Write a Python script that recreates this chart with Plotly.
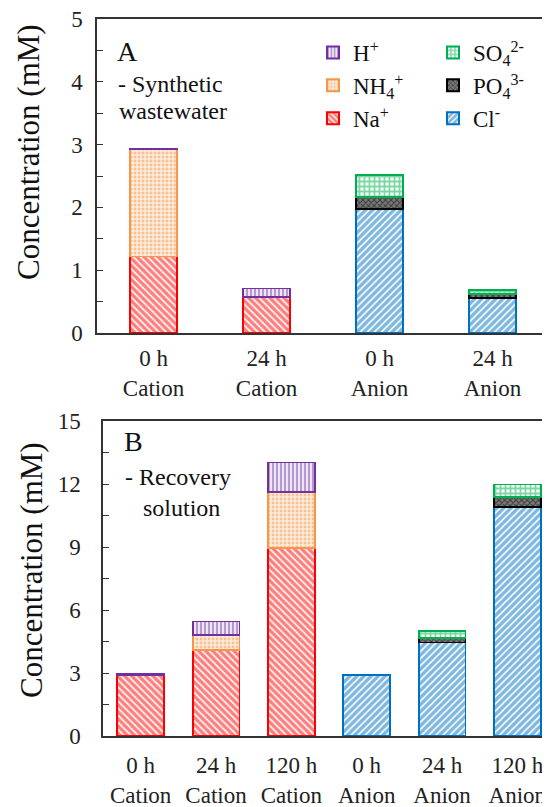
import plotly.graph_objects as go
from plotly.subplots import make_subplots

# ---------------- data ----------------
cats_a = ["0 h<br>Cation", "24 h<br>Cation", "0 h<br>Anion", "24 h<br>Anion"]
cats_b = ["0 h<br>Cation", "24 h<br>Cation", "120 h<br>Cation",
          "0 h<br>Anion", "24 h<br>Anion", "120 h<br>Anion"]

# Panel A - synthetic wastewater (mM)
na_a = [1.22, 0.57, None, None]
nh4_a = [1.70, None, None, None]
h_a = [0.02, 0.14, None, None]
cl_a = [None, None, 1.97, 0.56]
po4_a = [None, None, 0.20, 0.06]
so4_a = [None, None, 0.35, 0.07]

# Panel B - recovery solution (mM)
na_b = [2.90, 4.08, 8.95, None, None, None]
nh4_b = [None, 0.74, 2.68, None, None, None]
h_b = [0.07, 0.63, 1.40, None, None, None]
cl_b = [None, None, None, 2.90, 4.45, 10.90]
po4_b = [None, None, None, None, 0.21, 0.49]
so4_b = [None, None, None, None, 0.33, 0.58]

ion_names = {
    "Cl": "Cl<sup>-</sup>",
    "Na": "Na<sup>+</sup>",
    "PO4": "PO<sub>4</sub><sup>3-</sup>",
    "NH4": "NH<sub>4</sub><sup>+</sup>",
    "SO4": "SO<sub>4</sub><sup>2-</sup>",
    "H": "H<sup>+</sup>",
}
values_a = {"Cl": cl_a, "Na": na_a, "PO4": po4_a, "NH4": nh4_a, "SO4": so4_a, "H": h_a}
values_b = {"Cl": cl_b, "Na": na_b, "PO4": po4_b, "NH4": nh4_b, "SO4": so4_b, "H": h_b}
stack_order = ["Cl", "Na", "PO4", "NH4", "SO4", "H"]  # bottom -> top

# ---------------- styles ----------------
styles = {
    "Cl": dict(line="#0070C0", pat=dict(shape="/", fgcolor="#0070C0", bgcolor="white", size=5, solidity=0.68), rank=3, leg="legend2"),
    "Na": dict(line="#FF0000", pat=dict(shape="\\", fgcolor="#FF0000", bgcolor="white", size=5, solidity=0.68), rank=3, leg="legend"),
    "PO4": dict(line="#000000", pat=dict(shape="x", fgcolor="#000000", bgcolor="#7a7a7a", size=4, solidity=0.45), rank=2, leg="legend2"),
    "NH4": dict(line="#F79646", pat=dict(shape=".", fgcolor="#F79646", bgcolor="#FCEBDC", size=4, solidity=0.4), rank=2, leg="legend"),
    "SO4": dict(line="#00B050", pat=dict(shape="+", fgcolor="#00B050", bgcolor="white", size=5, solidity=0.6), rank=1, leg="legend2"),
    "H": dict(line="#7030A0", pat=dict(shape="|", fgcolor="#7030A0", bgcolor="white", size=4, solidity=0.62), rank=1, leg="legend"),
}

FONT = "Liberation Serif, Times New Roman, serif"
OFF = 8                     # page body margin of the browser
W, H = 550 - OFF, 807 - OFF


def fx(px):
    return (px - OFF) / W


def fy(py):
    return 1 - (py - OFF) / H


fig = make_subplots(rows=2, cols=1)

for ion in stack_order:
    st = styles[ion]
    fig.add_trace(go.Bar(
        x=cats_a, y=values_a[ion], name=ion_names[ion], width=0.42,
        marker=dict(color="white", pattern=st["pat"], line=dict(color=st["line"], width=1.7)),
        legendrank=st["rank"], legend=st["leg"], showlegend=True,
    ), row=1, col=1)
    fig.add_trace(go.Bar(
        x=cats_b, y=values_b[ion], name=ion_names[ion], width=0.62,
        marker=dict(color="white", pattern=st["pat"], line=dict(color=st["line"], width=1.7)),
        showlegend=False,
    ), row=2, col=1)

axis_common = dict(showline=True, linecolor="#333333", linewidth=1.5, mirror=True,
                   showgrid=False, zeroline=False, automargin=False,
                   ticklabeloverflow="allow",
                   tickfont=dict(family=FONT, size=23, color="#222222"))

legend_common = dict(orientation="v", yanchor="top", xanchor="left",
                     font=dict(family=FONT, size=23, color="#111111"),
                     bgcolor="rgba(0,0,0,0)", itemsizing="constant",
                     traceorder="normal", tracegroupgap=0)

fig.update_layout(
    width=W, height=H, barmode="stack",
    margin=dict(l=0, r=0, t=0, b=0),
    plot_bgcolor="white", paper_bgcolor="white",
    font=dict(family=FONT, color="#111111"),
    legend=dict(x=fx(313), y=fy(31), **legend_common),
    legend2=dict(x=fx(433), y=fy(31), **legend_common),
    xaxis=dict(domain=[fx(97), fx(549)], range=[-0.5, 3.5], ticks="",
               ticklabelstandoff=4, **axis_common),
    yaxis=dict(domain=[fy(333), fy(19)], range=[0, 5], dtick=1,
               ticks="inside", ticklen=6, tickcolor="#333333",
               minor=dict(ticks="inside", dtick=0.5, ticklen=6, tickcolor="#333333"),
               ticklabelstandoff=8, **axis_common),
    xaxis2=dict(domain=[fx(103), fx(549)], range=[-0.5, 5.42], ticks="",
                ticklabelstandoff=8, **axis_common),
    yaxis2=dict(domain=[fy(736), fy(421)], range=[0, 15], dtick=3,
                ticks="inside", ticklen=6, tickcolor="#333333",
                minor=dict(ticks="inside", dtick=1.5, ticklen=6, tickcolor="#333333"),
                ticklabelstandoff=16, **axis_common),
)


def px_ann(text, x, y, size, xanchor="left", angle=0):
    fig.add_annotation(text=text, x=fx(x), y=fy(y), xref="paper", yref="paper",
                       xanchor=xanchor, yanchor="middle", showarrow=False, textangle=angle,
                       borderpad=0,
                       font=dict(family=FONT, size=size, color="#111111"))


# y-axis titles
px_ann("Concentration (mM)", 29, 152, 31, xanchor="center", angle=-90)
px_ann("Concentration (mM)", 31, 570, 31, xanchor="center", angle=-90)

# panel labels
px_ann("A", 116, 51, 28)
px_ann("- Synthetic", 117, 84, 24)
px_ann("wastewater", 118, 111, 24)
px_ann("B", 123, 441, 28)
px_ann("- Recovery", 124, 477, 24)
px_ann("solution", 142, 508, 24)

fig.write_html("out.html")
